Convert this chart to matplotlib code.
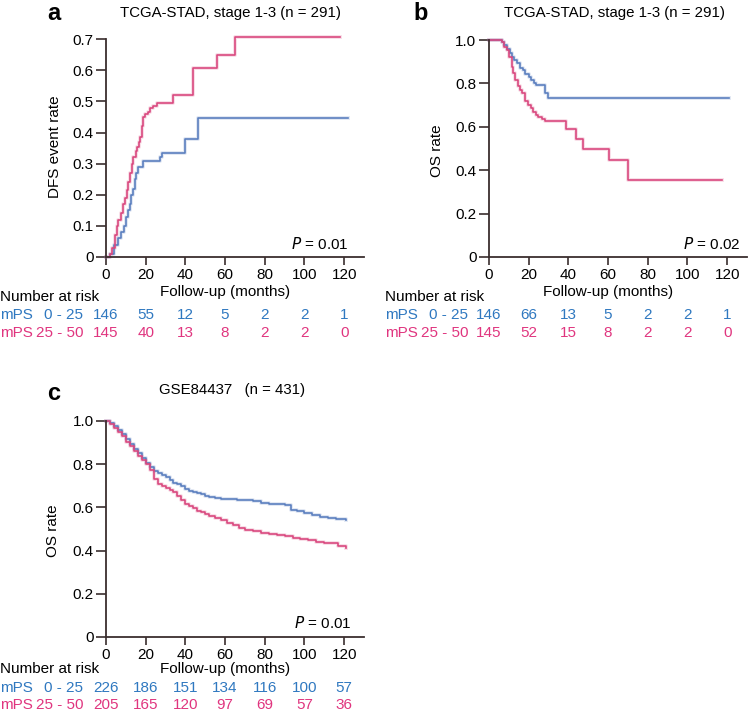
import matplotlib
matplotlib.use("Agg")
import matplotlib.pyplot as plt
import matplotlib.transforms as mtransforms

plt.rcParams['font.family'] = ['Liberation Sans', 'DejaVu Sans']

# ---- data ----
BLUE_TXT = '#2f78c0'
PINK_TXT = '#e0357f'
BLUE_LN = '#5b7fbf'
PINK_LN = '#d9487f'

risk_times = [0, 20, 40, 60, 80, 100, 120]

# panel a: DFS event rate (TCGA-STAD)
a_blue_t = [0, 2, 4, 6, 7.5, 9, 10, 11, 12, 12.8, 13.8, 14.5, 15.3, 16, 18.8, 27, 28, 39.8, 46.5, 121.7]
a_blue_v = [0, 0.01, 0.04, 0.06, 0.08, 0.10, 0.13, 0.15, 0.17, 0.20, 0.22, 0.25, 0.27, 0.29, 0.31, 0.32, 0.333, 0.38, 0.448, 0.448]
a_pink_t = [0, 2, 3, 4.5, 5.5, 6.2, 7.5, 8.7, 9.5, 10.4, 11.2, 12, 13, 13.8, 15, 15.4, 16.5, 17.1, 18, 18.5,
            19.5, 21, 22, 23.5, 25.5, 34, 43.6, 56, 65, 117.8]
a_pink_v = [0, 0.01, 0.03, 0.07, 0.10, 0.118, 0.14, 0.17, 0.19, 0.215, 0.24, 0.27, 0.30, 0.32, 0.34, 0.354, 0.37, 0.387, 0.42, 0.45,
            0.46, 0.465, 0.478, 0.485, 0.494, 0.52, 0.607, 0.65, 0.707, 0.707]
a_risk_low = [146, 55, 12, 5, 2, 2, 1]
a_risk_high = [145, 40, 13, 8, 2, 2, 0]

# panel b: OS rate (TCGA-STAD)
b_blue_t = [0, 6.3, 7.5, 9, 10.5, 11.5, 12.5, 14, 15.5, 17, 18, 20, 21.4, 22.5, 23.9, 28, 29.7, 121]
b_blue_v = [1.0, 0.99, 0.977, 0.96, 0.94, 0.92, 0.91, 0.892, 0.87, 0.86, 0.845, 0.83, 0.815, 0.80, 0.792, 0.754, 0.734, 0.734]
b_pink_t = [0, 6.3, 7.5, 8.9, 10, 11.4, 12.2, 13, 14.5, 15.5, 16.4, 18, 19.7, 21, 22.2, 23.5, 24.7, 26.5, 28,
            39, 44, 47.3, 60.7, 69.8, 117.5]
b_pink_v = [1.0, 0.99, 0.97, 0.954, 0.92, 0.877, 0.85, 0.815, 0.79, 0.77, 0.754, 0.72, 0.70, 0.685, 0.669, 0.655, 0.646, 0.635, 0.628,
            0.592, 0.542, 0.50, 0.446, 0.354, 0.354]
b_risk_low = [146, 66, 13, 5, 2, 2, 1]
b_risk_high = [145, 52, 15, 8, 2, 2, 0]

# panel c: OS rate (GSE84437)
c_blue_t = [0, 2, 4, 6, 8, 10, 12, 14, 16, 18, 20, 22, 24, 26, 28, 30, 32, 34, 36, 38, 40, 42, 44, 46, 48, 50, 52, 55,
            58, 62, 66, 70, 74, 78, 82, 86, 90, 93, 96, 100, 104, 108, 112, 116, 121]
c_blue_v = [1.0, 0.99, 0.975, 0.96, 0.94, 0.915, 0.893, 0.87, 0.85, 0.828, 0.805, 0.785, 0.77, 0.757, 0.75, 0.74, 0.728,
            0.715, 0.707, 0.697, 0.687, 0.678, 0.672, 0.665, 0.66, 0.655, 0.648, 0.642, 0.64, 0.638, 0.636, 0.633, 0.628,
            0.622, 0.618, 0.615, 0.613, 0.59, 0.585, 0.575, 0.565, 0.556, 0.55, 0.547, 0.543]
c_pink_t = [0, 2, 4, 6, 8, 10, 12, 14, 16, 18, 20, 22, 24, 26, 28, 30, 32, 34, 36, 38, 40, 42, 44, 46, 48, 50, 52, 55,
            58, 61, 64, 67, 70, 74, 78, 82, 86, 90, 94, 98, 102, 106, 110, 114, 117, 121]
c_pink_v = [1.0, 0.985, 0.968, 0.95, 0.93, 0.905, 0.885, 0.862, 0.84, 0.82, 0.80, 0.775, 0.73, 0.71, 0.70, 0.69, 0.68,
            0.67, 0.655, 0.632, 0.615, 0.605, 0.595, 0.585, 0.578, 0.568, 0.558, 0.55, 0.54, 0.53, 0.518, 0.505, 0.497,
            0.49, 0.483, 0.478, 0.474, 0.468, 0.458, 0.452, 0.447, 0.44, 0.436, 0.433, 0.42, 0.414]
c_risk_low = [226, 186, 151, 134, 116, 100, 57]
c_risk_high = [205, 165, 120, 97, 69, 57, 36]

W, H = 749, 713
FS = 11
fig = plt.figure(figsize=(W / 100, H / 100), dpi=100)


def fx(px):
    return px / W


def fy(py):
    return 1 - py / H


letter_y_of = {'a': 14, 'b': 14, 'c': 393}
nar_x_of = {'a': 0, 'b': 385, 'c': 0}


def panel(left, bottom_px, top_px, ylim_top, yticks, ylabels, ylabel, ylabel_x,
          bt, bv, pt, pv, title, title_x, title_y, letter, letter_x, pval, pval_x, pval_y,
          tick_lab_y, xlab_y, nar_y, row_y, risk_low, risk_high):
    ax = fig.add_axes([fx(left), fy(bottom_px), fx(258), (bottom_px - top_px) / H])
    ax.set_xlim(0, 130)
    ax.set_ylim(0, ylim_top)
    for s in ['top', 'right']:
        ax.spines[s].set_visible(False)
    for s in ['left', 'bottom']:
        ax.spines[s].set_linewidth(1.3)
        ax.spines[s].set_color('#3a2e2e')
    ax.spines['left'].set_bounds(0, yticks[-1])
    # soft halo + main line for each curve
    ax.step(bt, bv, where='post', color=BLUE_LN, lw=2.8, alpha=0.18, clip_on=False)
    ax.step(pt, pv, where='post', color=PINK_LN, lw=2.8, alpha=0.18, clip_on=False)
    ax.step(bt, bv, where='post', color=BLUE_LN, lw=1.2, clip_on=False)
    ax.step(pt, pv, where='post', color=PINK_LN, lw=1.2, clip_on=False)
    ax.set_yticks(yticks)
    ax.set_yticklabels(ylabels)
    ax.set_xticks(risk_times)
    ax.set_xticklabels([])
    ax.tick_params(axis='y', direction='out', length=7, width=1.2, color='#3a2e2e', labelsize=FS, pad=2)
    ax.tick_params(axis='x', direction='out', length=6, width=1.2, color='#3a2e2e')
    trans = mtransforms.blended_transform_factory(ax.transData, fig.transFigure)
    for t in risk_times:
        ax.text(t, fy(tick_lab_y), str(t), transform=trans, ha='center', va='center', fontsize=FS)
    ax.text(60, fy(xlab_y), 'Follow-up (months)', transform=trans, ha='center', va='center', fontsize=FS)
    for t, lo, hi in zip(risk_times, risk_low, risk_high):
        ax.text(t, fy(row_y[0]), str(lo), transform=trans, ha='center', va='center', fontsize=FS, color=BLUE_TXT)
        ax.text(t, fy(row_y[1]), str(hi), transform=trans, ha='center', va='center', fontsize=FS, color=PINK_TXT)
    fig.text(fx(ylabel_x), fy((bottom_px + top_px) / 2 + 2), ylabel, rotation=90, ha='center', va='center', fontsize=FS)
    fig.text(fx(title_x), fy(title_y), title, ha='center', va='center', fontsize=10.8)
    fig.text(fx(letter_x), fy(letter_y_of[letter]), letter, ha='left', va='center', fontsize=17, fontweight='bold')
    fig.text(fx(pval_x), fy(pval_y), r'$\it{P}$ = ' + pval, ha='right', va='center', fontsize=FS)
    x0 = nar_x_of[letter]
    fig.text(fx(x0), fy(nar_y), 'Number at risk', ha='left', va='center', fontsize=FS)
    fig.text(fx(x0), fy(row_y[0]), 'mPS', ha='left', va='center', fontsize=FS, color=BLUE_TXT)
    fig.text(fx(x0 + 83), fy(row_y[0]), '0 - 25', ha='right', va='center', fontsize=FS, color=BLUE_TXT)
    fig.text(fx(x0), fy(row_y[1]), 'mPS', ha='left', va='center', fontsize=FS, color=PINK_TXT)
    fig.text(fx(x0 + 83), fy(row_y[1]), '25 - 50', ha='right', va='center', fontsize=FS, color=PINK_TXT)
    return ax


panel(106, 257, 33, 0.72, [0, 0.1, 0.2, 0.3, 0.4, 0.5, 0.6, 0.7],
      ['0', '0.1', '0.2', '0.3', '0.4', '0.5', '0.6', '0.7'], 'DFS event rate', 55,
      a_blue_t, a_blue_v, a_pink_t, a_pink_v, 'TCGA-STAD, stage 1-3 (n = 291)', 230, 13,
      'a', 47, '0.01', 349, 244, 275, 292, 297, (315, 333), a_risk_low, a_risk_high)

panel(489, 257, 40, 1.0, [0, 0.2, 0.4, 0.6, 0.8, 1.0],
      ['0', '0.2', '0.4', '0.6', '0.8', '1.0'], 'OS rate', 437,
      b_blue_t, b_blue_v, b_pink_t, b_pink_v, 'TCGA-STAD, stage 1-3 (n = 291)', 614, 13,
      'b', 413, '0.02', 741, 244, 275, 292, 297, (315, 333), b_risk_low, b_risk_high)

panel(106, 637, 421, 1.0, [0, 0.2, 0.4, 0.6, 0.8, 1.0],
      ['0', '0.2', '0.4', '0.6', '0.8', '1.0'], 'OS rate', 53,
      c_blue_t, c_blue_v, c_pink_t, c_pink_v, 'GSE84437   (n = 431)', 232, 390,
      'c', 47, '0.01', 352, 623, 655, 669, 669, (688, 705), c_risk_low, c_risk_high)

fig.savefig('out.png', dpi=100)
